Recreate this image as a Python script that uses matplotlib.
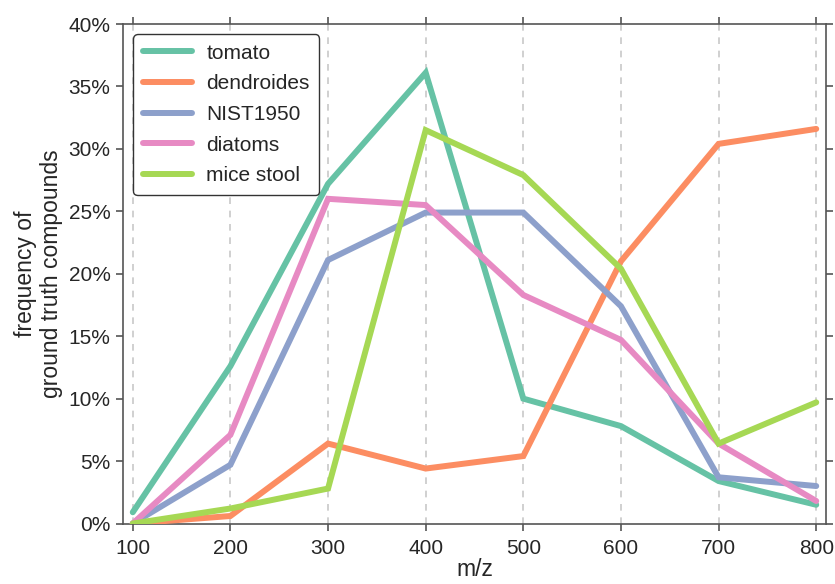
import matplotlib
matplotlib.use("Agg")
import matplotlib.pyplot as plt
from matplotlib.ticker import FuncFormatter

plt.rcParams['font.family'] = ['Liberation Sans', 'DejaVu Sans']

mz = [100, 200, 300, 400, 500, 600, 700, 800]
tomato = [0.9, 12.6, 27.2, 36.1, 10.0, 7.8, 3.4, 1.5]
dendroides = [0.0, 0.6, 6.4, 4.4, 5.4, 21.0, 30.4, 31.6]
nist1950 = [0.0, 4.7, 21.1, 24.9, 24.9, 17.4, 3.7, 3.0]
diatoms = [0.0, 7.1, 26.0, 25.5, 18.3, 14.7, 6.4, 1.8]
mice_stool = [0.0, 1.2, 2.8, 31.5, 27.9, 20.4, 6.4, 9.7]

series = [
    ("tomato", tomato, "#66c2a5"),
    ("dendroides", dendroides, "#fc8d62"),
    ("NIST1950", nist1950, "#8da0cb"),
    ("diatoms", diatoms, "#e78ac3"),
    ("mice stool", mice_stool, "#a6d854"),
]

text_color = "#262626"
spine_color = "#555555"
fs = 15
label_fs = 16.5

fig = plt.figure(figsize=(8.35, 5.84), dpi=100)
ax = fig.add_axes([123 / 835, 1 - 523.5 / 584, (826 - 123) / 835, (523.5 - 24) / 584])

for name, vals, col in series:
    ax.plot(mz, vals, color=col, lw=4.3, label=name, solid_capstyle="round",
            solid_joinstyle="miter", zorder=3)

ax.set_xlim(90, 810)
ax.set_ylim(0, 40)
ax.set_xticks(mz)
ax.set_yticks(range(0, 41, 5))
ax.yaxis.set_major_formatter(FuncFormatter(lambda v, p: f"{int(v)}%"))

ax.grid(axis="x", color="#c8c8c8", linestyle=(0, (4, 4)), lw=1.2, zorder=0)
ax.grid(axis="y", visible=False)

for s in ax.spines.values():
    s.set_color(spine_color)
    s.set_linewidth(1.2)

ax.tick_params(axis="both", which="major", direction="out", length=5, width=1.2,
               color=spine_color, labelsize=fs, labelcolor=text_color,
               top=True, right=True, labeltop=False, labelright=False)
ax.tick_params(axis="x", pad=6)
ax.tick_params(axis="y", pad=4)

ax.set_xlabel("m/z", fontsize=label_fs, color=text_color, labelpad=0)
ax.set_ylabel("frequency of\nground truth compounds", fontsize=label_fs, color=text_color,
              labelpad=4, linespacing=1.15)

leg = ax.legend(loc="upper left", bbox_to_anchor=(0.0, 1.0), fontsize=fs,
                frameon=True, fancybox=True, handlelength=2.35, handletextpad=0.7,
                borderpad=0.45, labelspacing=0.56, borderaxespad=0.5)
leg.get_frame().set_edgecolor("#333333")
leg.get_frame().set_linewidth(1.0)
leg.get_frame().set_facecolor("white")
leg.get_frame().set_alpha(1.0)
for t in leg.get_texts():
    t.set_color(text_color)

fig.savefig("out.png", dpi=100)
